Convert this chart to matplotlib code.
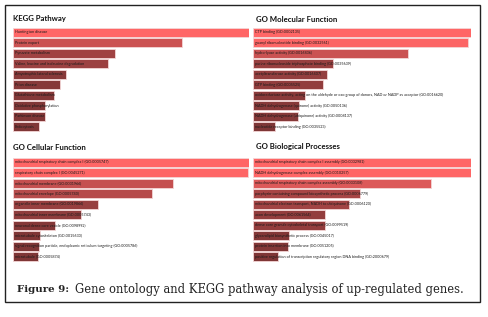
import matplotlib.pyplot as plt
from matplotlib.patches import Rectangle
import numpy as np

# data (bar length relative to the longest bar of each panel)
kegg_terms = ["Huntington disease", "Protein export", "Pyruvate metabolism",
              "Valine, leucine and isoleucine degradation", "Amyotrophic lateral sclerosis",
              "Prion disease", "Glutathione metabolism", "Oxidative phosphorylation",
              "Parkinson disease", "Endocytosis"]
kegg_vals = [1.0, 0.717, 0.433, 0.403, 0.226, 0.198, 0.173, 0.137, 0.134, 0.109]

mf_terms = ["CTP binding (GO:0002135)",
            "guanyl ribonucleotide binding (GO:0032561)",
            "hydro-lyase activity (GO:0016836)",
            "purine ribonucleoside triphosphate binding (GO:0035639)",
            "acetyltransferase activity (GO:0016407)",
            "GTP binding (GO:0005525)",
            "oxidoreductase activity, acting on the aldehyde or oxo group of donors, NAD or NADP as acceptor (GO:0016620)",
            "NADH dehydrogenase (quinone) activity (GO:0050136)",
            "NADH dehydrogenase (ubiquinone) activity (GO:0008137)",
            "nucleotide receptor binding (GO:0035523)"]
mf_vals = [1.0, 0.985, 0.71, 0.368, 0.34, 0.32, 0.24, 0.21, 0.206, 0.099]

cc_terms = ["mitochondrial respiratory chain complex I (GO:0005747)",
            "respiratory chain complex I (GO:0045271)",
            "mitochondrial membrane (GO:0031966)",
            "mitochondrial envelope (GO:0005740)",
            "organelle inner membrane (GO:0019866)",
            "mitochondrial inner membrane (GO:0005743)",
            "neuronal dense core vesicle (GO:0098992)",
            "microtubule cytoskeleton (GO:0015630)",
            "signal recognition particle, endoplasmic reticulum targeting (GO:0005786)",
            "microtubule (GO:0005874)"]
cc_vals = [1.0, 0.995, 0.68, 0.59, 0.36, 0.29, 0.18, 0.113, 0.11, 0.106]

bp_terms = ["mitochondrial respiratory chain complex I assembly (GO:0032981)",
            "NADH dehydrogenase complex assembly (GO:0010257)",
            "mitochondrial respiratory chain complex assembly (GO:0033108)",
            "porphyrin-containing compound biosynthetic process (GO:0006779)",
            "mitochondrial electron transport, NADH to ubiquinone (GO:0006120)",
            "axon development (GO:0061564)",
            "dense core granule cytoskeletal transport (GO:0099519)",
            "glycerolipid biosynthetic process (GO:0045017)",
            "protein insertion into membrane (GO:0051205)",
            "positive regulation of transcription regulatory region DNA binding (GO:2000679)"]
bp_vals = [1.0, 1.0, 0.817, 0.49, 0.44, 0.33, 0.33, 0.163, 0.16, 0.116]

W, H = 488, 317
fig = plt.figure(figsize=(W / 100, H / 100), dpi=100)
fig.patch.set_facecolor("white")

dark = np.array([0x7a, 0x34, 0x34]) / 255
bright = np.array([0xff, 0x66, 0x66]) / 255


def panel(x0, x1, ytop, ybot, title, tx, ty, terms, vals):
    ax = fig.add_axes([x0 / W, 1 - ybot / H, (x1 - x0) / W, (ybot - ytop) / H])
    pos = np.arange(len(terms))
    cols = [dark + (bright - dark) * v ** 1.5 for v in vals]
    ax.barh(pos, vals, height=0.86, color=cols, edgecolor="#f4d6d6", linewidth=0.6)
    for p, t in zip(pos, terms):
        ax.text(0.008, p, t, fontsize=2.7, family="Lato", va="center", ha="left", color="#1a1a1a")
    ax.set_xlim(0, 1)
    ax.set_ylim(len(terms) - 0.5, -0.5)
    ax.axis("off")
    fig.text(tx / W, 1 - ty / H, title, fontsize=5.6, fontweight="bold", family="Lato",
             va="center", ha="left", color="#111111")


panel(13, 249, 27, 132, "KEGG Pathway", 13, 19, kegg_terms, kegg_vals)
panel(253, 471, 27, 132, "GO Molecular Function", 256, 19, mf_terms, mf_vals)
panel(13, 249, 157, 262, "GO Cellular Function", 13, 148, cc_terms, cc_vals)
panel(253, 471, 157, 262, "GO Biological Processes", 256, 147, bp_terms, bp_vals)

# outer frame
fig.patches.append(Rectangle((5 / W, 1 - 302 / H), 475 / W, 297 / H, transform=fig.transFigure,
                             fill=False, edgecolor="#222222", linewidth=1.0))

# caption: bold label, then the rest right after it
lab = fig.text(17 / W, 1 - 290 / H, "Figure 9:", fontsize=7.4, fontweight="bold",
               family="DejaVu Serif", va="center", ha="left", color="#222222")
fig.canvas.draw()
x_end = lab.get_window_extent().x1
fig.text((x_end + 6) / W, 1 - 290 / H, "Gene ontology and KEGG pathway analysis of up-regulated genes.",
         fontsize=8.3, family="DejaVu Serif", va="center", ha="left", color="#222222")

fig.savefig("out.png", dpi=100)
